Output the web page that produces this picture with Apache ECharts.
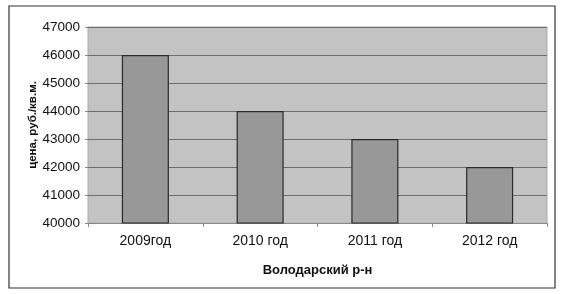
<!DOCTYPE html>
<html><head><meta charset="utf-8">
<script src="https://cdn.jsdelivr.net/npm/echarts@6/dist/echarts.min.js"></script>
<style>html,body{margin:0;padding:0;background:#fff;}#c{width:564px;height:294px;}</style>
</head><body><div id="c"></div>
<script>
const categories = ['2009год', '2010 год', '2011 год', '2012 год'];
const values = [46000, 44000, 43000, 42000];
const yTicks = { min: 40000, max: 47000, interval: 1000 };

const chart = echarts.init(document.getElementById('c'));
chart.setOption({
  animation: false,
  backgroundColor: '#ffffff',
  graphic: [{
    type: 'rect', shape: { x: 9, y: 6, width: 546, height: 282 },
    style: { fill: 'none', stroke: '#333', lineWidth: 1.2 }, silent: true
  }],
  grid: { left: 88, right: 17, top: 27, bottom: 71, show: true,
    backgroundColor: '#c3c3c3', borderColor: '#aaa', borderWidth: 1 },
  xAxis: {
    type: 'category', data: categories,
    name: 'Володарский р-н', nameLocation: 'middle', nameGap: 41,
    nameTextStyle: { fontFamily: 'Liberation Sans', fontSize: 13, fontWeight: 'bold', color: '#111' },
    axisLine: { lineStyle: { color: '#888' } },
    axisTick: { show: true, length: 4, lineStyle: { color: '#888' } },
    axisLabel: { fontFamily: 'Liberation Sans', fontSize: 14, color: '#111', margin: 11 }
  },
  yAxis: {
    type: 'value', min: yTicks.min, max: yTicks.max, interval: yTicks.interval,
    name: 'цена, руб./кв.м.', nameLocation: 'middle', nameGap: 49, nameRotate: 90,
    nameMoveOverlap: false,
    nameTextStyle: { fontFamily: 'Liberation Sans', fontSize: 11.5, fontWeight: 'bold', color: '#111' },
    axisLine: { show: false },
    axisTick: { show: true, length: 3, lineStyle: { color: '#888' } },
    axisLabel: { fontFamily: 'Liberation Sans', fontSize: 13.5, color: '#111', margin: 8,
      formatter: v => String(v) },
    splitLine: { show: true, lineStyle: { color: '#6e6e6e', width: 1 } }
  },
  series: [{
    type: 'bar', data: values, barWidth: '41%',
    itemStyle: { color: '#989898', borderColor: '#2a2a2a', borderWidth: 1.2 }
  }]
});
</script></body></html>
